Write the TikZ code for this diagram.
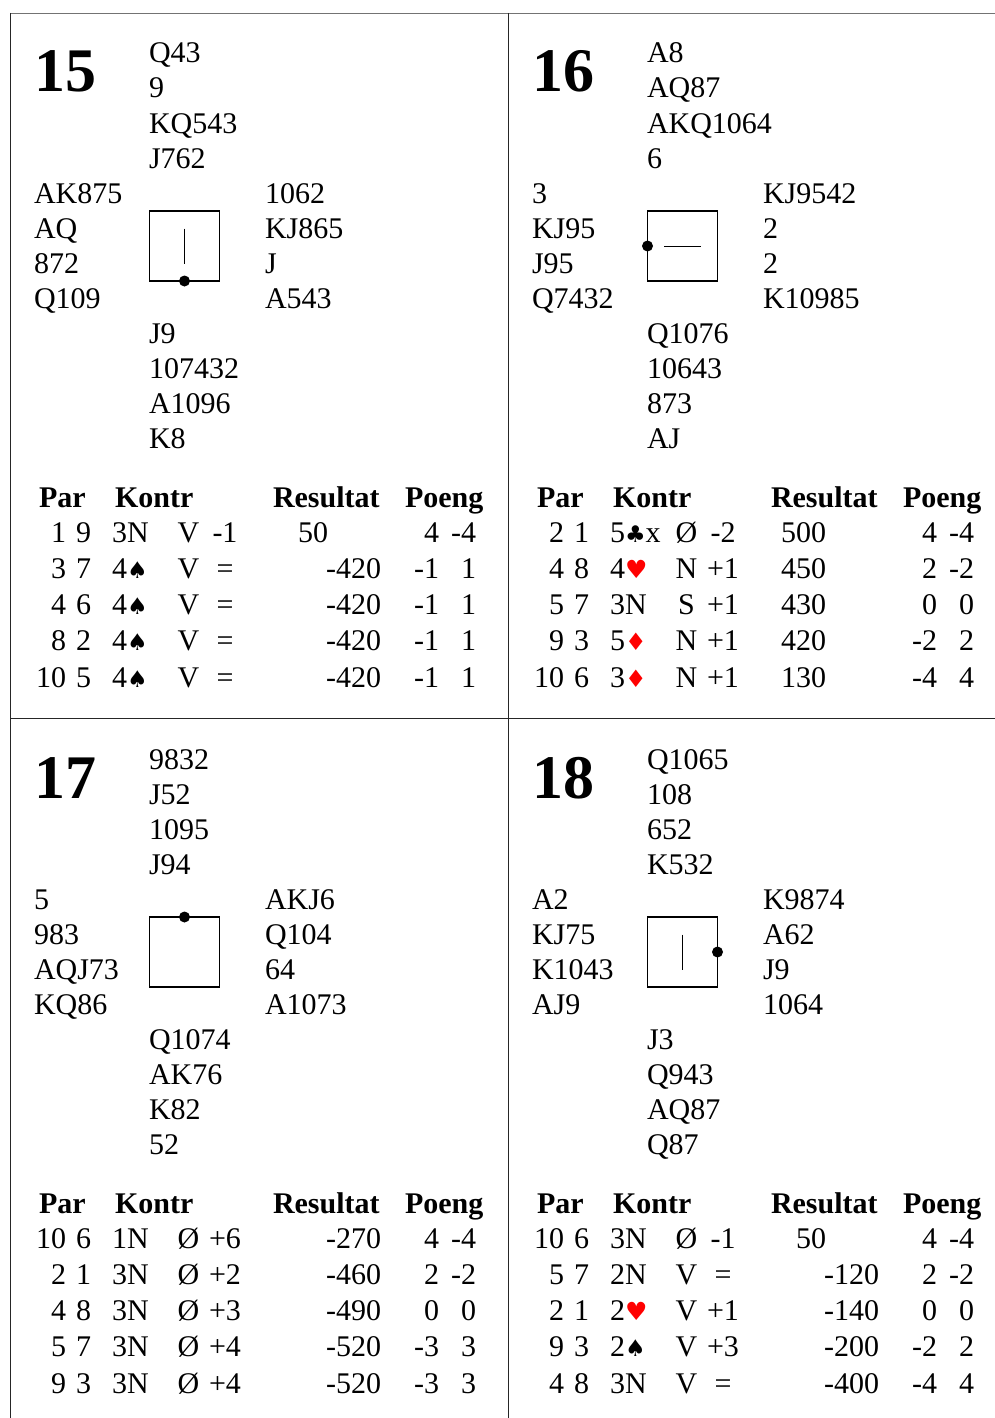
\documentclass[tikz,border=0pt]{standalone}
\usepackage{fontspec}
\setmainfont{Liberation Serif}
\newfontfamily\symf{DejaVu Sans}
\newcommand\spd{{\symf\fontsize{23}{23}\selectfont ♠}}
\newcommand\clb{{\symf\fontsize{23}{23}\selectfont ♣}}
\newcommand\hrt{{\color{red}\symf\fontsize{25}{25}\selectfont ♥}}
\newcommand\dmd{{\color{red}\symf\fontsize{24}{24}\selectfont ♦}}

\tikzset{
 txt/.style={anchor=base west, inner sep=0pt, outer sep=0pt, font=\fontsize{30}{35}\selectfont},
 hdr/.style={txt, font=\fontsize{30}{35}\selectfont\bfseries},
 bnum/.style={anchor=base west, inner sep=0pt, outer sep=0pt, font=\fontsize{62}{62}\selectfont\bfseries},
 dealbox/.style={draw, line width=1.3pt, minimum size=70pt, inner sep=0pt, outer sep=0pt},
 vul/.style={line width=1pt},
 frame/.style={line width=1.3pt, black!85},
 topline/.style={line width=1.3pt, black!55},
}

\newcommand\bhand[7]{%
  \node[txt] (#1a) at (#2,#3) {#4};
  \node[txt] (#1b) at (#2,#3+35) {#5};
  \node[txt] (#1c) at (#2,#3+70) {#6};
  \node[txt] (#1d) at (#2,#3+105) {#7};
}

\newcommand\btable[2]{%
  \node[hdr] (#1hpar) at (39,507) {Par};
  \node[hdr] (#1hkon) at (115,507) {Kontr};
  \node[hdr] (#1hres) at (273,507) {Resultat};
  \node[hdr] (#1hpo) at (405,507) {Poeng};
  \foreach \ii/\pa/\pb/\kc/\kd/\kr/\rx/\rs/\sa/\sb in {#2}{
    \node[txt,anchor=base east] (#1pa\ii) at (66,542+36.25*\ii) {\pa};
    \node[txt,anchor=base east] (#1pb\ii) at (91,542+36.25*\ii) {\pb};
    \node[txt] (#1c\ii) at (112,542+36.25*\ii) {\kc};
    \node[txt,anchor=base] (#1d\ii) at (188.5,542+36.25*\ii) {\kd};
    \node[txt,anchor=base] (#1r\ii) at (225,542+36.25*\ii) {\kr};
    \node[txt,anchor=base east] (#1res\ii) at (\rx,542+36.25*\ii) {\rs};
    \node[txt,anchor=base east] (#1sa\ii) at (439,542+36.25*\ii) {\sa};
    \node[txt,anchor=base east] (#1sb\ii) at (476,542+36.25*\ii) {\sb};
  }
}

\begin{document}
\begin{tikzpicture}[x=1pt,y=-1pt]
\useasboundingbox[fill=white] (0,0) rectangle (995,1418);

% frame lines
\draw[topline] (10,13.5) -- (995,13.5);
\draw[frame] (10.5,13) -- (10.5,1418);
\draw[frame] (508.5,13) -- (508.5,1418);
\draw[frame] (10,718.5) -- (995,718.5);

% ---------- Board 15 ----------
\node[bnum] (n15) at (34,92) {15};
\bhand{p15n}{149}{63}{Q43}{9}{KQ543}{J762}
\bhand{p15w}{34}{203}{AK875}{AQ}{872}{Q109}
\bhand{p15e}{265}{203}{1062}{KJ865}{J}{A543}
\bhand{p15s}{149}{343}{J9}{107432}{A1096}{K8}
\node[dealbox] (p15box) at (184.5,246) {};
\fill (p15box.south) circle (5.5);
\draw[vul] (p15box.center) ++(0,-17.5) -- ++(0,35);
\btable{p15}{0/1/9/3N/V/-1/328/50/4/-4,
  1/3/7/4\spd/V/=/381/-420/-1/1,
  2/4/6/4\spd/V/=/381/-420/-1/1,
  3/8/2/4\spd/V/=/381/-420/-1/1,
  4/10/5/4\spd/V/=/381/-420/-1/1}

% ---------- Board 16 ----------
\begin{scope}[shift={(498,0)}]
\node[bnum] (n16) at (34,92) {16};
\bhand{p16n}{149}{63}{A8}{AQ87}{AKQ1064}{6}
\bhand{p16w}{34}{203}{3}{KJ95}{J95}{Q7432}
\bhand{p16e}{265}{203}{KJ9542}{2}{2}{K10985}
\bhand{p16s}{149}{343}{Q1076}{10643}{873}{AJ}
\node[dealbox] (p16box) at (184.5,246) {};
\fill (p16box.west) circle (5.5);
\draw[vul] (p16box.center) ++(-18.5,0) -- ++(37,0);
\btable{p16}{0/2/1/5\clb x/Ø/-2/328/500/4/-4,
  1/4/8/4\hrt/N/+1/328/450/2/-2,
  2/5/7/3N/S/+1/328/430/0/0,
  3/9/3/5\dmd/N/+1/328/420/-2/2,
  4/10/6/3\dmd/N/+1/328/130/-4/4}
\end{scope}

% ---------- Board 17 ----------
\begin{scope}[shift={(0,706)}]
\node[bnum] (n17) at (34,92) {17};
\bhand{p17n}{149}{63}{9832}{J52}{1095}{J94}
\bhand{p17w}{34}{203}{5}{983}{AQJ73}{KQ86}
\bhand{p17e}{265}{203}{AKJ6}{Q104}{64}{A1073}
\bhand{p17s}{149}{343}{Q1074}{AK76}{K82}{52}
\node[dealbox] (p17box) at (184.5,246) {};
\fill (p17box.north) circle (5.5);
\btable{p17}{0/10/6/1N/Ø/+6/381/-270/4/-4,
  1/2/1/3N/Ø/+2/381/-460/2/-2,
  2/4/8/3N/Ø/+3/381/-490/0/0,
  3/5/7/3N/Ø/+4/381/-520/-3/3,
  4/9/3/3N/Ø/+4/381/-520/-3/3}
\end{scope}

% ---------- Board 18 ----------
\begin{scope}[shift={(498,706)}]
\node[bnum] (n18) at (34,92) {18};
\bhand{p18n}{149}{63}{Q1065}{108}{652}{K532}
\bhand{p18w}{34}{203}{A2}{KJ75}{K1043}{AJ9}
\bhand{p18e}{265}{203}{K9874}{A62}{J9}{1064}
\bhand{p18s}{149}{343}{J3}{Q943}{AQ87}{Q87}
\node[dealbox] (p18box) at (184.5,246) {};
\fill (p18box.east) circle (5.5);
\draw[vul] (p18box.center) ++(0,-17.5) -- ++(0,35);
\btable{p18}{0/10/6/3N/Ø/-1/328/50/4/-4,
  1/5/7/2N/V/=/381/-120/2/-2,
  2/2/1/2\hrt/V/+1/381/-140/0/0,
  3/9/3/2\spd/V/+3/381/-200/-2/2,
  4/4/8/3N/V/=/381/-400/-4/4}
\end{scope}
\end{tikzpicture}
\end{document}
